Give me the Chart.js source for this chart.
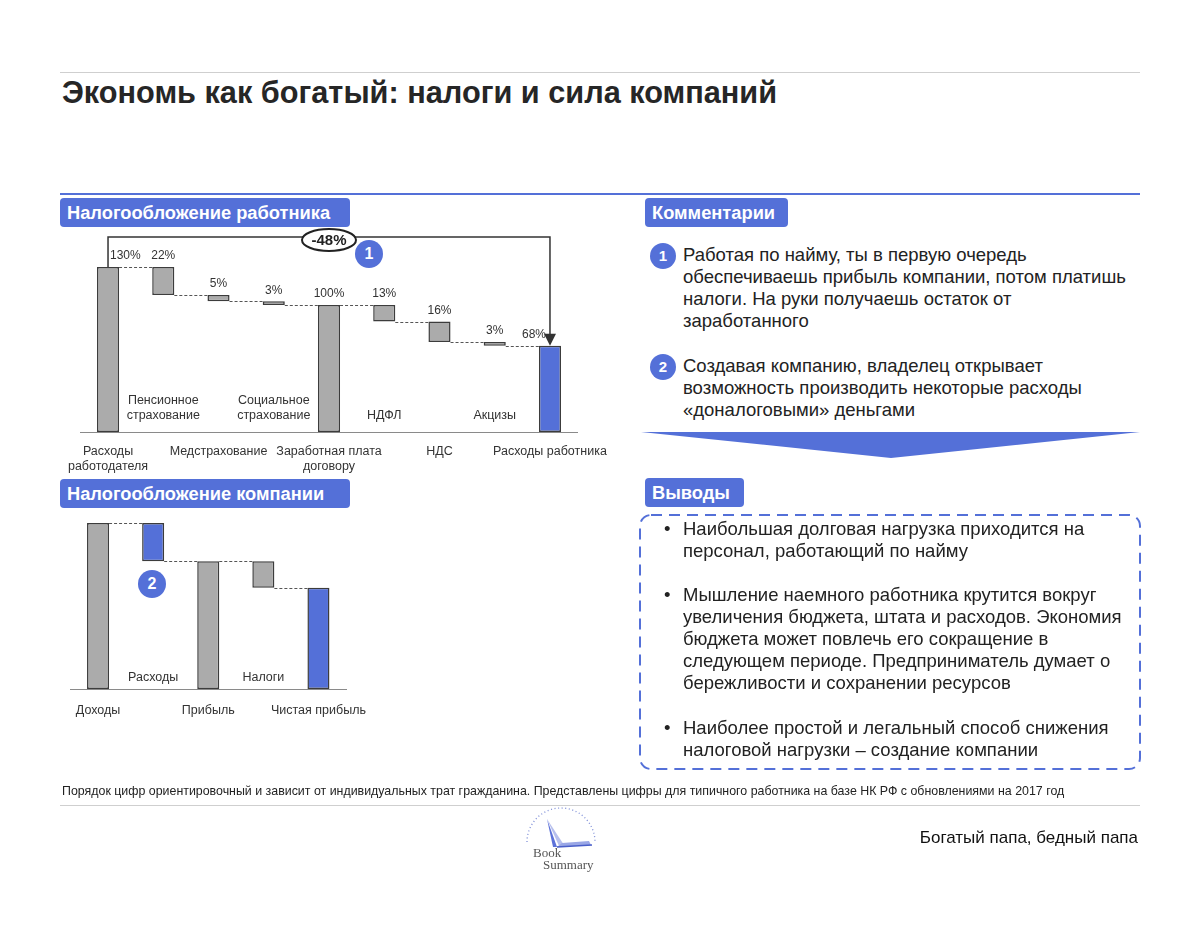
<!DOCTYPE html>
<html lang="ru">
<head>
<meta charset="utf-8">
<title>Экономь как богатый: налоги и сила компаний</title>
<script src="https://cdn.jsdelivr.net/npm/chart.js@4.4.1/dist/chart.umd.min.js"></script>
<style>
  html, body { margin: 0; padding: 0; background: #fff; }
  body { width: 1200px; height: 928px; position: relative; overflow: hidden;
         font-family: "Liberation Sans", Arial, sans-serif; color: #222; }
  .abs { position: absolute; }
  .rule { position: absolute; left: 60px; width: 1080px; }
  .title { left: 62px; top: 76px; font-size: 30.7px; line-height: 34px; font-weight: bold; color: #262626; white-space: nowrap; }
  .tag { position: absolute; height: 29px; line-height: 29px; background: #5470D8; color: #fff;
         font-weight: bold; font-size: 18.3px; padding-left: 7px; border-radius: 4px; box-sizing: border-box; white-space: nowrap; }
  .txt { position: absolute; left: 683px; font-size: 18.5px; line-height: 22px; color: #222; white-space: nowrap; }
  .badge { position: absolute; border-radius: 50%; background: #5470D8; color: #fff; font-weight: bold;
           text-align: center; }
  .bullet { position: absolute; left: -19px; }
  canvas { position: absolute; }
</style>
</head>
<body>

<div class="rule" style="top:72px;height:1px;background:#cfcfcf;"></div>
<div class="abs title">Экономь как богатый: налоги и сила компаний</div>
<div class="rule" style="top:193px;height:2px;background:#5470D8;"></div>

<canvas id="workerChart" width="600" height="261" style="left:40px;top:226px;"></canvas>
<canvas id="companyChart" width="340" height="220" style="left:60px;top:512px;"></canvas>

<div class="tag" style="left:60px;top:198px;width:290px;">Налогообложение работника</div>
<div class="tag" style="left:60px;top:479px;width:290px;">Налогообложение компании</div>
<div class="tag" style="left:645px;top:198px;width:143px;">Комментарии</div>
<div class="tag" style="left:645px;top:478px;width:99px;">Выводы</div>

<div class="badge" style="left:355px;top:240px;width:28px;height:28px;line-height:28px;font-size:16px;">1</div>
<div class="badge" style="left:138px;top:570px;width:28px;height:28px;line-height:28px;font-size:16px;">2</div>

<div class="badge" style="left:650px;top:243px;width:26px;height:26px;line-height:26px;font-size:15px;">1</div>
<div class="txt" style="top:244px;">Работая по найму, ты в первую очередь<br>обеспечиваешь прибыль компании, потом платишь<br>налоги. На руки получаешь остаток от<br>заработанного</div>
<div class="badge" style="left:650px;top:354px;width:26px;height:26px;line-height:26px;font-size:15px;">2</div>
<div class="txt" style="top:355px;">Создавая компанию, владелец открывает<br>возможность производить некоторые расходы<br>«доналоговыми» деньгами</div>

<svg class="abs" style="left:0;top:0;" width="1200" height="928">
  <polygon points="641,432 1140,432 891,458" fill="#5470D8"/>
  <rect x="640" y="515" width="500" height="254" rx="11" ry="11" fill="none" stroke="#5470D8" stroke-width="2" stroke-dasharray="11 7"/>
</svg>

<div class="txt" style="top:518px;"><span class="bullet">•</span>Наибольшая долговая нагрузка приходится на<br>персонал, работающий по найму</div>
<div class="txt" style="top:584px;"><span class="bullet">•</span>Мышление наемного работника крутится вокруг<br>увеличения бюджета, штата и расходов. Экономия<br>бюджета может повлечь его сокращение в<br>следующем периоде. Предприниматель думает о<br>бережливости и сохранении ресурсов</div>
<div class="txt" style="top:717px;"><span class="bullet">•</span>Наиболее простой и легальный способ снижения<br>налоговой нагрузки – создание компании</div>

<div class="abs" style="left:62px;top:784px;font-size:12.4px;line-height:15px;white-space:nowrap;color:#222;">Порядок цифр ориентировочный и зависит от индивидуальных трат гражданина. Представлены цифры для типичного работника на базе НК РФ с обновлениями на 2017 год</div>
<div class="rule" style="top:805px;height:1px;background:#cfcfcf;"></div>

<svg class="abs" style="left:515px;top:806px;" width="95" height="70">
  <path d="M12 36 A 34 34 0 0 1 80 36" fill="none" stroke="#7f8fd8" stroke-width="1.3" stroke-dasharray="1 2.6"/>
  <polygon points="32,13 42,41 38,41" fill="#5d72d9"/>
  <polygon points="32,13 44,40 49,39" fill="#a9b4ea" opacity="0.85"/>
  <polygon points="42,41 76,39 74,35 47,37" fill="#9aa7e6"/>
  <line x1="42" y1="41" x2="77" y2="39" stroke="#4a5fc9" stroke-width="1.3"/>
  <text x="18" y="51" font-family="'Liberation Serif', 'DejaVu Serif', serif" font-size="13" fill="#555">Book</text>
  <text x="28" y="63" font-family="'Liberation Serif', 'DejaVu Serif', serif" font-size="13" fill="#555">Summary</text>
</svg>

<div class="abs" style="right:62px;top:828px;font-size:17px;line-height:20px;color:#111;white-space:nowrap;">Богатый папа, бедный папа</div>

<script>
// ---- worker taxation waterfall ----
const workerCategories = ['Расходы работодателя', 'Пенсионное страхование', 'Медстрахование', 'Социальное страхование',
  'Заработная плата договору', 'НДФЛ', 'НДС', 'Акцизы', 'Расходы работника'];
const workerAxisLabels = [['Расходы', 'работодателя'], '', 'Медстрахование', '', ['Заработная плата', 'договору'], '', 'НДС', '', 'Расходы работника'];
const workerInnerLabels = ['', ['Пенсионное', 'страхование'], '', ['Социальное', 'страхование'], '', 'НДФЛ', '', 'Акцизы', ''];
const workerValues = [130, 22, 5, 3, 100, 13, 16, 3, 68];
const workerTotals = [true, false, false, false, true, false, false, false, true];
const workerChangeLabel = '-48%';

// ---- company taxation waterfall ----
const companyCategories = ['Доходы', 'Расходы', 'Прибыль', 'Налоги', 'Чистая прибыль'];
const companyAxisLabels = ['Доходы', '', 'Прибыль', '', 'Чистая прибыль'];
const companyInnerLabels = ['', 'Расходы', '', 'Налоги', ''];
const companyValues = [100, 23, 77, 16, 61];
const companyTotals = [true, false, true, false, true];

const GREY = '#ABABAB';
const BLUE = '#5470D8';
const EDGE = '#3c3c3c';
const FONT = '"Liberation Sans", Arial, sans-serif';

// turn totals + decrements into [low, high] floating bars
function toFloating(values, totals) {
  let level = 0;
  return values.map((v, i) => {
    if (totals[i]) { level = v; return [0, v]; }
    const bar = [level - v, level];
    level -= v;
    return bar;
  });
}

const waterfallDecor = {
  id: 'waterfallDecor',
  afterDatasetsDraw(chart, args, opts) {
    const { ctx } = chart;
    const y = chart.scales.y;
    const meta = chart.getDatasetMeta(0);
    const bars = chart.data.datasets[0].data;
    const n = bars.length;
    ctx.save();

    // dashed connectors
    ctx.setLineDash([3, 2]);
    ctx.strokeStyle = '#555';
    ctx.lineWidth = 1;
    for (let i = 0; i < n - 1; i++) {
      const a = meta.data[i], b = meta.data[i + 1];
      const level = opts.totals[i] ? bars[i][1] : bars[i][0];
      const py = Math.round(y.getPixelForValue(level)) + 0.5;
      ctx.beginPath();
      ctx.moveTo(a.x + a.width / 2, py);
      ctx.lineTo(b.x - b.width / 2, py);
      ctx.stroke();
    }
    ctx.setLineDash([]);

    // labels near the base line
    const base = y.getPixelForValue(0);
    ctx.fillStyle = '#333';
    ctx.font = opts.font;
    ctx.textAlign = 'center';
    ctx.textBaseline = 'middle';
    opts.innerLabels.forEach((lab, i) => {
      if (!lab) return;
      const lines = Array.isArray(lab) ? lab : [lab];
      lines.slice().reverse().forEach((ln, k) => {
        ctx.fillText(ln, meta.data[i].x, base - opts.innerOffset - k * 15);
      });
    });

    // value labels
    if (opts.showValues) {
      ctx.font = '12px ' + FONT;
      opts.values.forEach((v, i) => {
        const top = y.getPixelForValue(bars[i][1]);
        let px = meta.data[i].x;
        ctx.textAlign = 'center';
        if (i === 0) { ctx.textAlign = 'left'; px += 2; }
        if (i === n - 1) { ctx.textAlign = 'right'; px -= 4; }
        ctx.fillText(v + '%', px, top - 11);
      });
    }

    // bracket with arrow from first to last total
    if (opts.bracket) {
      const first = meta.data[0], last = meta.data[n - 1];
      const topFirst = y.getPixelForValue(bars[0][1]);
      const topLast = y.getPixelForValue(bars[n - 1][1]);
      const by = topFirst - 30;
      ctx.strokeStyle = '#333';
      ctx.lineWidth = 1.5;
      ctx.beginPath();
      ctx.moveTo(first.x, topFirst);
      ctx.lineTo(first.x, by);
      ctx.lineTo(last.x, by);
      ctx.lineTo(last.x, topLast - 10);
      ctx.stroke();
      ctx.fillStyle = '#333';
      ctx.beginPath();
      ctx.moveTo(last.x - 6, topLast - 12);
      ctx.lineTo(last.x + 6, topLast - 12);
      ctx.lineTo(last.x, topLast);
      ctx.closePath();
      ctx.fill();

      const cx = (first.x + last.x) / 2;
      ctx.beginPath();
      ctx.ellipse(cx, by + 3, 27, 11, 0, 0, Math.PI * 2);
      ctx.fillStyle = '#fff';
      ctx.fill();
      ctx.lineWidth = 2;
      ctx.strokeStyle = '#222';
      ctx.stroke();
      ctx.fillStyle = '#222';
      ctx.font = 'bold 15px ' + FONT;
      ctx.textAlign = 'center';
      ctx.fillText(opts.bracket, cx, by + 4);
    }
    ctx.restore();
  }
};

function waterfallConfig(cfg) {
  return {
    type: 'bar',
    data: {
      labels: cfg.axisLabels,
      datasets: [{
        data: toFloating(cfg.values, cfg.totals),
        backgroundColor: cfg.colors,
        borderColor: EDGE,
        borderWidth: 1.5,
        borderSkipped: false,
        barPercentage: cfg.barPct,
        categoryPercentage: 1
      }]
    },
    options: {
      responsive: false,
      animation: false,
      layout: { padding: cfg.padding },
      plugins: {
        legend: { display: false },
        tooltip: { enabled: false },
        waterfallDecor: {
          totals: cfg.totals,
          values: cfg.values,
          innerLabels: cfg.innerLabels,
          innerOffset: cfg.innerOffset,
          showValues: cfg.showValues,
          bracket: cfg.bracket,
          font: cfg.fontSize + 'px ' + FONT
        }
      },
      scales: {
        x: {
          grid: { display: false, drawTicks: false },
          border: { display: true, color: '#8a8a8a', width: 1 },
          ticks: {
            autoSkip: false, maxRotation: 0, minRotation: 0,
            padding: cfg.tickPad,
            color: '#333',
            font: { family: FONT, size: cfg.fontSize, lineHeight: 1.2 }
          }
        },
        y: { display: false, min: 0, max: cfg.max }
      }
    },
    plugins: [waterfallDecor]
  };
}

new Chart(document.getElementById('workerChart'), waterfallConfig({
  axisLabels: workerAxisLabels,
  innerLabels: workerInnerLabels,
  values: workerValues,
  totals: workerTotals,
  colors: workerValues.map((v, i) => i === workerValues.length - 1 ? BLUE : GREY),
  barPct: 0.4,
  padding: { left: 40.4, right: 62.4, top: 15.6, bottom: 0 },
  tickPad: 12.5,
  fontSize: 12.5,
  innerOffset: 16,
  showValues: true,
  bracket: workerChangeLabel,
  max: 150
}));

new Chart(document.getElementById('companyChart'), waterfallConfig({
  axisLabels: companyAxisLabels,
  innerLabels: companyInnerLabels,
  values: companyValues,
  totals: companyTotals,
  colors: [GREY, BLUE, GREY, GREY, BLUE],
  barPct: 0.4,
  padding: { left: 10.5, right: 54, top: 7.7, bottom: 0 },
  tickPad: 14,
  fontSize: 12.5,
  innerOffset: 11,
  showValues: false,
  bracket: null,
  max: 102
}));
</script>
</body>
</html>
